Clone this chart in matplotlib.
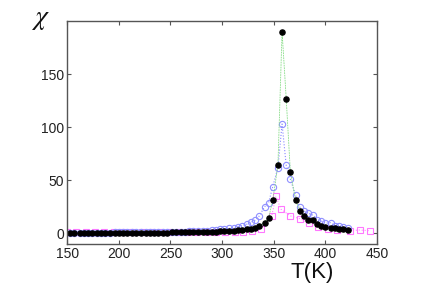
import matplotlib
matplotlib.use("Agg")
import matplotlib.pyplot as plt

plt.rcParams['font.family'] = ['Liberation Sans', 'DejaVu Sans']

# temperatures (K) for the filled / open-circle series
T = [153, 157, 162, 166, 170, 174, 179, 183, 187, 191, 196,
     200, 204, 208, 213, 217, 221, 226, 230, 234, 238,
     243, 247, 251, 255, 260, 264, 268, 272, 277, 281,
     285, 290, 294, 298, 302, 307, 311, 315, 319, 324,
     328, 332, 336, 341, 345, 349, 354,
     358,
     362, 366, 371, 375, 379, 383, 388, 392, 396, 400, 405, 409, 413, 417, 422]

chi_black = [0.2, 0.2, 0.2, 0.3, 0.3, 0.3, 0.3, 0.3, 0.3, 0.4, 0.4,
             0.4, 0.4, 0.4, 0.5, 0.5, 0.5, 0.5, 0.6, 0.6, 0.6,
             0.7, 0.7, 0.8, 0.8, 0.9, 1.0, 1.0, 1.1, 1.2, 1.3,
             1.4, 1.5, 1.6, 1.8, 2.0, 2.2, 2.4, 2.8, 3.2, 3.6,
             4.5, 5.4, 7.2, 10, 14.8, 31, 64.6,
             190,
             127, 58, 31.5, 21.4, 16.4, 12.6, 12.6, 8.5, 7.2, 5.7, 5.4, 4.7, 4.4, 3.8, 3.5]

chi_blue = [0.5, 0.5, 0.5, 0.6, 0.6, 0.6, 0.6, 0.7, 0.7, 0.7, 0.8,
            0.8, 0.8, 0.9, 0.9, 1.0, 1.0, 1.0, 1.1, 1.1, 1.2,
            1.3, 1.3, 1.4, 1.5, 1.6, 1.7, 1.8, 2.0, 2.2, 2.4,
            2.6, 2.9, 3.2, 3.6, 4.0, 4.6, 5.3, 6.3, 7.3, 8.6,
            10.5, 12.5, 16.4, 25, 29, 44, 62,
            103,
            64, 51, 36, 25, 21, 19, 17, 13, 11.6, 9.5, 10, 7, 6.6, 5.7, 5]

# open-square series
T_pink = [150, 159, 168, 177, 186, 195, 204, 213, 222, 231,
          240, 249, 258, 267, 276, 285, 294, 303, 312, 320,
          329, 338, 348, 352, 357, 366, 375, 384, 393, 402, 411, 424, 433, 443]
chi_pink = [0.8, 0.8, 0.8, 0.8, 0.8, 0.8, 0.9, 0.9, 0.9, 0.9,
            1.0, 1.0, 1.0, 1.0, 1.0, 1.1, 1.1, 1.0, 0.8, 1.0,
            2.5, 4.4, 16.4, 34.7, 22.7, 16.4, 13.9, 9.8, 6.3, 4.5, 3.5, 2.5, 3.1, 2.5]

fig = plt.figure(figsize=(4.36, 2.88), dpi=100)
ax = fig.add_axes([0.154, 0.153, 0.711, 0.774])

ax.plot(T_pink, chi_pink, ls=':', lw=0.8, color='#ff88ff', marker='s', ms=3.8,
        mfc='none', mec='#ff77ff', mew=0.8)
ax.plot(T, chi_blue, ls=':', lw=0.8, color='#8888ff', marker='o', ms=4.5,
        mfc='none', mec='#8f8fff', mew=0.8)
ax.plot(T, chi_black, ls='--', lw=0.6, color='#88dd88', dashes=(2, 1), marker='o', ms=3.7,
        mfc='black', mec='black')

ax.set_xlim(150, 450)
ax.set_ylim(-10, 200)
ax.set_xticks([150, 200, 250, 300, 350, 400, 450])
ax.set_yticks([0, 50, 100, 150])
ax.tick_params(direction='in', top=True, right=True, length=3, width=0.8,
               colors='#555555', labelcolor='#222222', labelsize=10, pad=2)
for s in ax.spines.values():
    s.set_color('#555555')
    s.set_linewidth(1.0)

fig.text(0.715, 0.035, 'T(K)', fontsize=16, ha='center', va='baseline', color='#111111')
fig.text(0.072, 0.915, r'$\chi$', fontsize=20, ha='left', va='baseline', color='#111111',
         math_fontfamily='stix')

fig.savefig('out.png', dpi=100)
